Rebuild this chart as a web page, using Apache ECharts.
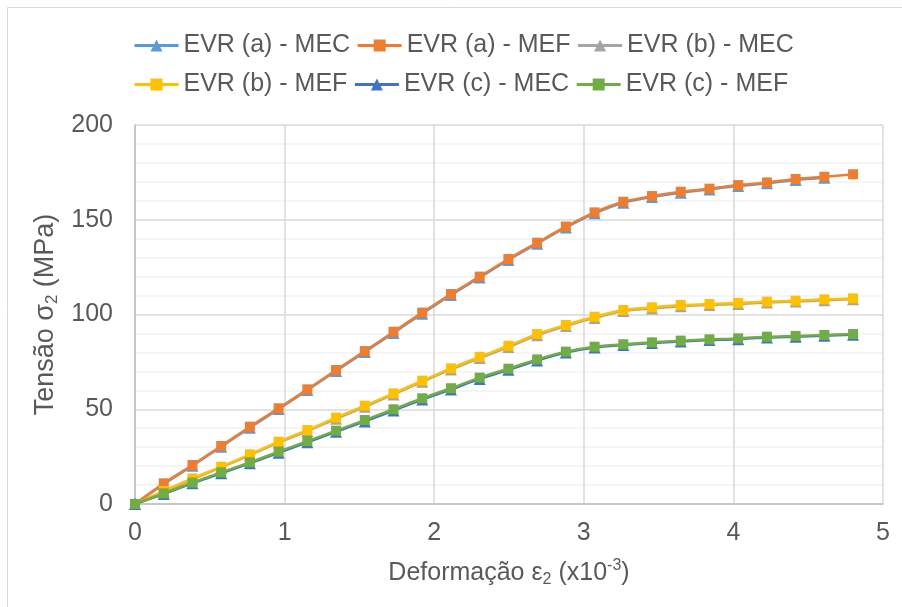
<!DOCTYPE html>
<html>
<head>
<meta charset="utf-8">
<script src="https://cdn.jsdelivr.net/npm/echarts@6/dist/echarts.min.js"></script>
<style>
  html, body { margin: 0; padding: 0; background: #fff; }
  #chart { width: 902px; height: 607px; }
</style>
</head>
<body>
<div id="chart"></div>
<script>
  // deformação (x10^-3)
  var strain = [0, 0.192, 0.384, 0.576, 0.768, 0.96, 1.152, 1.344, 1.536, 1.728, 1.92, 2.112, 2.304,
    2.496, 2.688, 2.88, 3.072, 3.264, 3.456, 3.648, 3.84, 4.032, 4.224, 4.416, 4.608, 4.8]

  // tensão (MPa)
  var aMEC = [0, 10.5, 20.2, 30.2, 40.3, 50.1, 60.1, 70.2, 80.2, 90.3, 100.4, 110.3, 119.5, 128.8,
    137.4, 145.9, 153.4, 159, 162, 164.3, 166, 167.8, 169.2, 171, 172.2]
  var aMEF = [0, 10.9, 20.6, 30.6, 40.8, 50.5, 60.5, 70.7, 80.7, 90.9, 101, 110.8, 120, 129.3,
    137.9, 146.4, 153.9, 159.5, 162.5, 164.8, 166.4, 168.3, 169.7, 171.5, 172.7, 174]
  var bMEC = [0, 6.5, 13, 19.3, 25.8, 32.4, 38.5, 45, 51.3, 57.8, 64.5, 71, 77, 82.8,
    89, 93.9, 98.2, 101.8, 103.2, 104.4, 105, 105.6, 106.3, 106.8, 107.5, 108]
  var bMEF = [0, 6.9, 13.5, 19.7, 26.2, 32.9, 39, 45.6, 51.9, 58.4, 65.1, 71.6, 77.7, 83.5,
    89.7, 94.5, 98.8, 102.4, 103.8, 105, 105.5, 106.1, 106.8, 107.3, 108, 108.5]
  var cMEC = [0, 5.3, 10.9, 16.2, 21.5, 27, 32.6, 38.1, 43.6, 49.3, 55.1, 60.4, 66, 70.8,
    75.7, 79.9, 82.6, 83.9, 84.9, 85.8, 86.5, 87, 87.9, 88.3, 88.8, 89.3]
  var cMEF = [0, 5.6, 11.3, 16.7, 22, 27.6, 33.2, 38.7, 44.3, 50, 55.8, 61.1, 66.7, 71.4,
    76.3, 80.4, 83, 84.3, 85.3, 86.2, 86.9, 87.4, 88.3, 88.7, 89.2, 89.7]

  var names = ['EVR (a) - MEC', 'EVR (a) - MEF', 'EVR (b) - MEC', 'EVR (b) - MEF', 'EVR (c) - MEC', 'EVR (c) - MEF']
  var colors = ['#5B9BD5', '#ED7D31', '#A5A5A5', '#FFC000', '#4472C4', '#70AD47']
  var values = [aMEC, aMEF, bMEC, bMEF, cMEC, cMEF]

  function pairs (ys) {
    var out = []
    for (var i = 0; i < ys.length; i++) {
      out.push([strain[i], ys[i]])
    }
    return out
  }

  var series = []
  for (var k = 0; k < names.length; k++) {
    var tri = k % 2 === 0
    series.push({
      name: names[k],
      type: 'line',
      data: pairs(values[k]),
      symbol: tri ? 'triangle' : 'rect',
      symbolSize: tri ? 12 : 10,
      smooth: 0.3,
      color: colors[k],
      lineStyle: { width: 2.5, color: colors[k] },
      itemStyle: { color: colors[k] },
      emphasis: { disabled: true },
      animation: false,
      z: 2 + k
    })
  }

  var font = 'Arial, "Liberation Sans", sans-serif'
  var legendBase = {
    left: 128,
    itemWidth: 44,
    itemHeight: 15,
    itemGap: 6,
    lineStyle: { width: 3 },
    textStyle: { fontSize: 25, color: '#595959', fontFamily: font }
  }

  var myChart = echarts.init(document.getElementById('chart'))
  var option = {
    backgroundColor: '#fff',
    graphic: [{
      type: 'rect',
      shape: { x: 7.5, y: 7.5, width: 920, height: 640 },
      style: { fill: 'none', stroke: '#d9d9d9', lineWidth: 1 },
      silent: true
    }],
    legend: [
      Object.assign({}, legendBase, { top: 28, data: names.slice(0, 3) }),
      Object.assign({}, legendBase, { top: 67, data: names.slice(3, 6) })
    ],
    grid: { left: 135, right: 19, top: 125, bottom: 103 },
    xAxis: {
      type: 'value',
      min: 0,
      max: 5,
      interval: 1,
      name: '{n|Deformação ε}{sub|2}{n| (x10}{sup|-3}{n|)}',
      nameLocation: 'middle',
      nameGap: 54,
      nameTextStyle: {
        rich: {
          n: { fontSize: 25, color: '#595959', fontFamily: font, lineHeight: 30, verticalAlign: 'middle' },
          sub: { fontSize: 16, color: '#595959', fontFamily: font, verticalAlign: 'bottom', lineHeight: 30 },
          sup: { fontSize: 16, color: '#595959', fontFamily: font, verticalAlign: 'top', lineHeight: 30 }
        }
      },
      axisLine: { show: true, lineStyle: { color: '#bfbfbf', width: 1.5 } },
      axisTick: { show: false },
      axisLabel: { fontSize: 25, color: '#595959', fontFamily: font, margin: 17 },
      splitLine: { show: true, lineStyle: { color: '#d9d9d9', width: 1.5 } }
    },
    yAxis: {
      type: 'value',
      min: 0,
      max: 200,
      interval: 50,
      name: '{n|Tensão σ}{sub|2}{n| (MPa)}',
      nameLocation: 'middle',
      nameGap: 61,
      nameRotate: 90,
      nameTextStyle: {
        rich: {
          n: { fontSize: 27, color: '#595959', fontFamily: font, lineHeight: 30, verticalAlign: 'middle' },
          sub: { fontSize: 17, color: '#595959', fontFamily: font, verticalAlign: 'bottom', lineHeight: 30 }
        }
      },
      axisLine: { show: true, lineStyle: { color: '#bfbfbf', width: 1.5 } },
      axisTick: { show: false },
      axisLabel: { fontSize: 25, color: '#595959', fontFamily: font, margin: 22 },
      splitLine: { show: true, lineStyle: { color: '#d9d9d9', width: 1.5 } },
      minorTick: { show: false, splitNumber: 5 },
      minorSplitLine: { show: true, lineStyle: { color: '#f2f2f2', width: 1.5 } }
    },
    series: series
  }
  myChart.setOption(option)
</script>
</body>
</html>
